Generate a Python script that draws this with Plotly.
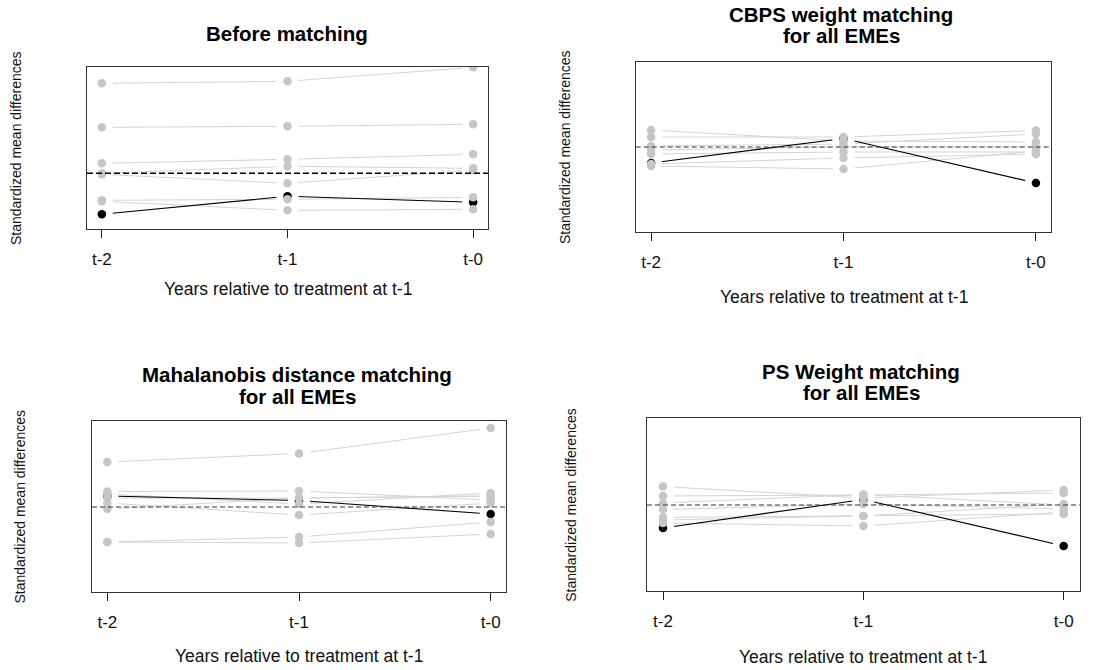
import plotly.graph_objects as go

W, H = 1118, 670
FONT = "Liberation Sans, Arial, Helvetica, sans-serif"

# ---------------- data ----------------
PERIODS = ["t-2", "t-1", "t-0"]
XPOS = [0, 1, 2]
ZERO = 0.0

before_grey = [
    [0.90, 0.92, 1.06],
    [0.46, 0.47, 0.49],
    [0.10, 0.14, 0.19],
    [0.00, 0.07, 0.05],
    [-0.01, -0.10, 0.03],
    [-0.27, -0.26, -0.24],
    [-0.28, -0.37, -0.36],
]
before_black = [-0.41, -0.23, -0.29]

cbps_grey = [
    [0.17, 0.06, 0.05],
    [0.10, 0.10, 0.165],
    [0.01, 0.03, 0.13],
    [-0.03, 0.00, 0.00],
    [-0.07, -0.05, -0.05],
    [-0.17, -0.11, -0.07],
    [-0.19, -0.22, -0.04],
]
cbps_black = [-0.16, 0.085, -0.36]

maha_grey = [
    [0.45, 0.535, 0.79],
    [0.155, 0.16, 0.07],
    [0.13, 0.03, 0.14],
    [0.09, 0.09, 0.11],
    [0.04, -0.08, 0.04],
    [-0.02, 0.09, 0.11],
    [-0.35, -0.30, -0.15],
    [-0.35, -0.36, -0.27],
]
maha_black = [0.11, 0.065, -0.07]

ps_grey = [
    [0.185, 0.07, 0.15],
    [0.09, 0.10, 0.12],
    [0.02, 0.105, 0.00],
    [-0.045, 0.01, -0.04],
    [-0.125, -0.11, -0.09],
    [-0.18, -0.21, -0.07],
    [-0.15, -0.11, 0.01],
]
ps_black = [-0.23, 0.055, -0.41]

TITLES = [
    ["Before matching"],
    ["CBPS weight matching", "for all EMEs"],
    ["Mahalanobis distance matching", "for all EMEs"],
    ["PS Weight matching", "for all EMEs"],
]
XTITLE = "Years relative to treatment at t-1"
YTITLE = "Standardized mean differences"

# ---------------- layout (pixels) ----------------
panels = [
    dict(grey=before_grey, black=before_black, box=(87, 488, 67, 229), yr=(-0.557, 1.063),
         title_y=[33], title_x=287, ytx=16, xty=289, zero_col="#000000", zero_w=1.6, zero_dash="6px,3px"),
    dict(grey=cbps_grey, black=cbps_black, box=(635.7, 1051.3, 62, 232), yr=(-0.85, 0.85),
         title_y=[15, 35], title_x=841, ytx=565, xty=297, zero_col="#333333", zero_w=1.1, zero_dash="5px,3px"),
    dict(grey=maha_grey, black=maha_black, box=(92, 506, 421, 592), yr=(-0.85, 0.86),
         title_y=[375, 396], title_x=297, ytx=20, xty=656, zero_col="#333333", zero_w=1.1, zero_dash="5px,3px"),
    dict(grey=ps_grey, black=ps_black, box=(647, 1079.7, 418.3, 591.3), yr=(-0.863, 0.867),
         title_y=[371, 392], title_x=861, ytx=571, xty=657, zero_col="#333333", zero_w=1.1, zero_dash="5px,3px"),
]

GREY_MK = "#c6c6c6"
GREY_LN = "#d4d4d4"
XR = [-0.08, 2.08]

fig = go.Figure()
annotations = []
layout_axes = {}


def axname(k, letter):
    return letter if k == 1 else f"{letter}{k}"


for i, p in enumerate(panels):
    n = i + 1
    xa, ya = axname(n, "x"), axname(n, "y")
    x0, x1, y0, y1 = p["box"]
    layout_axes[axname(n, "xaxis")] = dict(
        domain=[x0 / W, x1 / W], anchor=ya, range=XR,
        tickmode="array", tickvals=XPOS, ticktext=PERIODS,
        ticks="outside", ticklen=8, tickwidth=1.2, tickcolor="#222222",
        showline=True, linecolor="#333333", linewidth=1.2, mirror=True,
        showgrid=False, zeroline=False, ticklabelstandoff=6,
        tickfont=dict(family=FONT, size=17, color="#111111"),
    )
    layout_axes[axname(n, "yaxis")] = dict(
        domain=[1 - y1 / H, 1 - y0 / H], anchor=xa, range=list(p["yr"]),
        showticklabels=False, ticks="", showline=True, linecolor="#333333",
        linewidth=1.2, mirror=True, showgrid=False, zeroline=False,
    )

    # grey lines
    for s in p["grey"]:
        fig.add_trace(go.Scatter(x=XPOS, y=s, mode="lines", xaxis=xa, yaxis=ya,
                                 line=dict(color=GREY_LN, width=1), hoverinfo="skip", showlegend=False))
    # black line
    fig.add_trace(go.Scatter(x=XPOS, y=p["black"], mode="lines", xaxis=xa, yaxis=ya,
                             line=dict(color="#000000", width=1.1), hoverinfo="skip", showlegend=False))
    # white masks (R type="b" gaps around points)
    for s in p["grey"] + [p["black"]]:
        fig.add_trace(go.Scatter(x=XPOS, y=s, mode="markers", xaxis=xa, yaxis=ya,
                                 marker=dict(color="white", size=22, line=dict(width=0)),
                                 hoverinfo="skip", showlegend=False))
    # black markers
    fig.add_trace(go.Scatter(x=XPOS, y=p["black"], mode="markers", xaxis=xa, yaxis=ya,
                             marker=dict(color="#000000", size=8.5, line=dict(width=0)),
                             showlegend=False))
    # grey markers
    for s in p["grey"]:
        fig.add_trace(go.Scatter(x=XPOS, y=s, mode="markers", xaxis=xa, yaxis=ya,
                                 marker=dict(color=GREY_MK, size=8.5, line=dict(width=0)),
                                 showlegend=False))
    # zero reference line
    fig.add_shape(type="line", xref=f"{xa} domain", yref=ya, x0=0, x1=1, y0=ZERO, y1=ZERO,
                  line=dict(color=p["zero_col"], width=p["zero_w"], dash=p["zero_dash"]), layer="above")

    # titles
    for line_txt, ty in zip(TITLES[i], p["title_y"]):
        annotations.append(dict(text=f"<b>{line_txt}</b>", x=p["title_x"] / W, y=1 - ty / H,
                                xref="paper", yref="paper", xanchor="center", yanchor="middle",
                                showarrow=False, font=dict(family=FONT, size=20.5, color="#000000")))
    # x title
    annotations.append(dict(text=XTITLE, x=((x0 + x1) / 2) / W, y=1 - p["xty"] / H,
                            xref="paper", yref="paper", xanchor="center", yanchor="middle",
                            showarrow=False, font=dict(family=FONT, size=17.5, color="#111111")))
    # y title
    annotations.append(dict(text=YTITLE, x=p["ytx"] / W, y=1 - ((y0 + y1) / 2) / H,
                            xref="paper", yref="paper", xanchor="center", yanchor="middle",
                            textangle=-90, showarrow=False,
                            font=dict(family=FONT, size=14, color="#111111")))

fig.update_layout(
    width=W, height=H, margin=dict(l=0, r=0, t=0, b=0),
    paper_bgcolor="white", plot_bgcolor="white",
    showlegend=False, annotations=annotations, **layout_axes,
)

fig.write_html("out.html")
